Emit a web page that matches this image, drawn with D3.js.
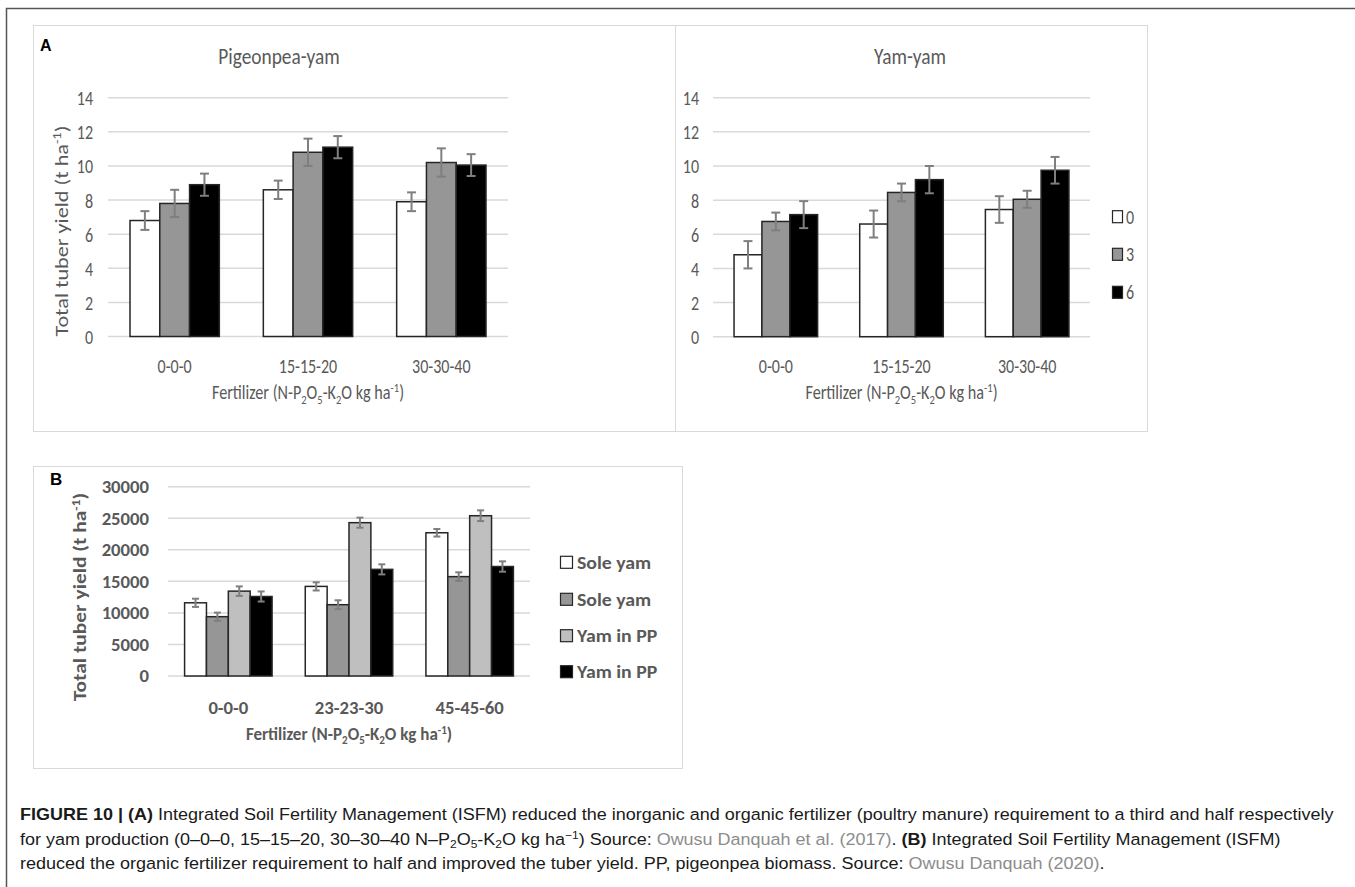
<!DOCTYPE html>
<html><head><meta charset="utf-8">
<script src="https://cdn.jsdelivr.net/npm/d3@7"></script>
<style>
html,body{margin:0;padding:0;background:#fff;}
svg{display:block;}
</style></head>
<body>
<svg id="fig" width="1355" height="887"></svg>
<script>
// ---------- DATA ----------
const catsA = ["0-0-0", "15-15-20", "30-30-40"];
const seriesA = ["0", "3", "6"];
// Pigeonpea-yam (t/ha), one array per manure level, ordered as catsA
const pyMean0 = [6.8, 8.6, 7.9];
const pyMean3 = [7.8, 10.8, 10.2];
const pyMean6 = [8.9, 11.1, 10.05];
const pyErr0 = [0.55, 0.54, 0.55];
const pyErr3 = [0.8, 0.8, 0.83];
const pyErr6 = [0.65, 0.65, 0.64];
// Yam-yam (t/ha)
const yyMean0 = [4.8, 6.6, 7.45];
const yyMean3 = [6.75, 8.45, 8.05];
const yyMean6 = [7.15, 9.2, 9.75];
const yyErr0 = [0.8, 0.79, 0.78];
const yyErr3 = [0.52, 0.52, 0.5];
const yyErr6 = [0.79, 0.8, 0.78];
const ticksA = [0, 2, 4, 6, 8, 10, 12, 14];

const catsB = ["0-0-0", "23-23-30", "45-45-60"];
const seriesB = ["Sole yam", "Sole yam", "Yam in PP", "Yam in PP"];
const bMean1 = [11600, 14200, 22700];
const bMean2 = [9400, 11300, 15750];
const bMean3 = [13450, 24300, 25400];
const bMean4 = [12600, 16900, 17350];
const bErr1 = [650, 650, 600];
const bErr2 = [650, 700, 680];
const bErr3 = [750, 800, 850];
const bErr4 = [800, 800, 820];
const ticksB = [0, 5000, 10000, 15000, 20000, 25000, 30000];

// ---------- STYLE ----------
const FONT = "Carlito, Lato, 'Open Sans', sans-serif";
const TXT = "#595959";
const GRID = "#d9d9d9";
const fillsA = ["#ffffff", "#969696", "#000000"];
const fillsB = ["#ffffff", "#969696", "#bfbfbf", "#000000"];

const svg = d3.select("#fig");
svg.append("rect").attr("width", 1355).attr("height", 887).attr("fill", "#fff");

// outer figure frame (top and left)
svg.append("path").attr("d", "M6.5,887 V8.5 H1355").attr("fill", "none")
  .attr("stroke", "#555").attr("stroke-width", 1.5);

// panel boxes
svg.append("rect").attr("x", 33.5).attr("y", 25.5).attr("width", 642).attr("height", 406)
  .attr("fill", "none").attr("stroke", GRID).attr("stroke-width", 1);
svg.append("rect").attr("x", 675.5).attr("y", 25.5).attr("width", 472).attr("height", 406)
  .attr("fill", "none").attr("stroke", GRID).attr("stroke-width", 1);
svg.append("rect").attr("x", 33.5).attr("y", 466.5).attr("width", 649).attr("height", 302)
  .attr("fill", "none").attr("stroke", GRID).attr("stroke-width", 1);

function fertTitle(g, x, y, size, weight, sx) {
  const t = g.append("text")
    .attr("transform", `translate(${x},${y}) scale(${sx},1)`).attr("text-anchor", "middle")
    .attr("font-family", FONT).attr("font-size", size).attr("font-weight", weight).attr("fill", TXT);
  const sub = s => t.append("tspan").attr("font-size", size * 0.65).attr("dy", size * 0.25).text(s);
  t.append("tspan").text("Fertilizer (N-P");
  sub("2"); t.append("tspan").attr("dy", -size * 0.25).text("O");
  sub("5"); t.append("tspan").attr("dy", -size * 0.25).text("-K");
  sub("2"); t.append("tspan").attr("dy", -size * 0.25).text("O kg ha");
  t.append("tspan").attr("font-size", size * 0.65).attr("dy", -size * 0.38).text("-1");
  t.append("tspan").attr("dy", size * 0.38).text(")");
  return t;
}

function yTitle(g, x, y, size, weight, stretch) {
  const t = g.append("text").attr("transform", `translate(${x},${y}) rotate(-90) scale(${stretch},1)`)
    .attr("text-anchor", "middle").attr("font-family", FONT).attr("font-size", size)
    .attr("font-weight", weight).attr("fill", TXT);
  t.append("tspan").text("Total tuber yield (t ha");
  t.append("tspan").attr("font-size", size * 0.65).attr("dy", -size * 0.38).text("-1");
  t.append("tspan").attr("dy", size * 0.38).text(")");
  return t;
}

function drawChart(cfg) {
  const g = svg.append("g");
  const x0 = d3.scaleBand().domain(cfg.cats).range(cfg.xr)
    .paddingInner(cfg.pad).paddingOuter(cfg.pad / 2);
  const x1 = d3.scaleBand().domain(d3.range(cfg.series.length)).range([0, x0.bandwidth()]);
  const y = d3.scaleLinear().domain(cfg.ydom).range(cfg.yr);
  const sx = cfg.sx || 1;

  // gridlines
  g.selectAll(".grid").data(cfg.ticks).join("line")
    .attr("x1", cfg.xr[0]).attr("x2", cfg.xr[1])
    .attr("y1", d => y(d)).attr("y2", d => y(d))
    .attr("stroke", GRID).attr("stroke-width", 1.5);

  // y axis labels
  const yAxis = d3.axisLeft(y).tickValues(cfg.ticks).tickSize(0).tickPadding(0).tickFormat(d3.format("d"));
  const ya = g.append("g").attr("transform", `translate(${cfg.ylabX},0)`).call(yAxis);
  ya.select(".domain").remove();
  ya.selectAll("text").attr("font-family", FONT).attr("font-size", cfg.tickSize)
    .attr("font-weight", cfg.weight).attr("fill", TXT).attr("dy", "0.35em")
    .attr("transform", `scale(${sx},1)`);

  // x axis labels
  const xAxis = d3.axisBottom(x0).tickSize(0).tickPadding(0);
  const xa = g.append("g").attr("transform", `translate(0,${cfg.xlabY})`).call(xAxis);
  xa.select(".domain").remove();
  xa.selectAll("text").attr("font-family", FONT).attr("font-size", cfg.tickSize)
    .attr("font-weight", cfg.weight).attr("fill", TXT).attr("dy", 0)
    .attr("transform", `scale(${sx},1)`);

  // bars
  const rows = [];
  cfg.cats.forEach((c, i) => cfg.means.forEach((m, s) => rows.push({ c, s, v: m[i], e: cfg.errs[s][i] })));
  g.selectAll(".bar").data(rows).join("rect")
    .attr("x", d => x0(d.c) + x1(d.s))
    .attr("y", d => y(d.v))
    .attr("width", x1.bandwidth())
    .attr("height", d => y(0) - y(d.v))
    .attr("fill", d => cfg.fills[d.s])
    .attr("stroke", "#262626").attr("stroke-width", 1.5);

  // error bars
  const eb = g.selectAll(".eb").data(rows).join("g")
    .attr("transform", d => `translate(${x0(d.c) + x1(d.s) + x1.bandwidth() / 2},0)`);
  eb.append("line").attr("y1", d => y(d.v + d.e)).attr("y2", d => y(d.v - d.e))
    .attr("stroke", "#7f7f7f").attr("stroke-width", 2);
  [1, -1].forEach(k => eb.append("line").attr("x1", -cfg.cap).attr("x2", cfg.cap)
    .attr("y1", d => y(d.v + k * d.e)).attr("y2", d => y(d.v + k * d.e))
    .attr("stroke", "#7f7f7f").attr("stroke-width", 2));

  if (cfg.title) {
    g.append("text").attr("transform", `translate(${cfg.titleX},${cfg.titleY}) scale(0.88,1)`)
      .attr("text-anchor", "middle").attr("font-family", FONT).attr("font-size", 22)
      .attr("fill", TXT).text(cfg.title);
  }
  fertTitle(g, (cfg.xr[0] + cfg.xr[1]) / 2, cfg.xtitleY, cfg.titleSize, cfg.weight, cfg.xtSx || 1);
  if (cfg.ytitleX) yTitle(g, cfg.ytitleX, cfg.ytitleY, cfg.ytSize, cfg.weight, cfg.ytStretch);

  if (cfg.legend) {
    const L = cfg.legend;
    const lg = g.selectAll(".lg").data(cfg.series).join("g")
      .attr("transform", (d, i) => `translate(${L.x},${L.ys[i]})`);
    lg.append("rect").attr("x", 0.5).attr("y", -L.sqh / 2).attr("width", L.sqw).attr("height", L.sqh)
      .attr("fill", (d, i) => cfg.fills[i]).attr("stroke", "#262626").attr("stroke-width", 1.2);
    lg.append("text").attr("transform", `translate(${L.tx},0) scale(${sx},1)`).attr("dy", "0.35em")
      .attr("font-family", FONT).attr("font-size", L.size).attr("font-weight", cfg.weight)
      .attr("fill", TXT).text(d => d);
  }
  return g;
}

// Panel A left
drawChart({
  cats: catsA, series: seriesA, means: [pyMean0, pyMean3, pyMean6], errs: [pyErr0, pyErr3, pyErr6],
  fills: fillsA, xr: [108, 508], pad: 0.33, ydom: [0, 14], yr: [336.5, 97.7], ticks: ticksA,
  ylabX: 93, xlabY: 373, tickSize: 20, weight: "normal", cap: 4.5, sx: 0.8,
  title: "Pigeonpea-yam", titleX: 279, titleY: 64, xtitleY: 399, titleSize: 19.5, xtSx: 0.83,
  ytitleX: 68, ytitleY: 231, ytSize: 18.5, ytStretch: 1.2
});
// Panel A right
drawChart({
  cats: catsA, series: seriesA, means: [yyMean0, yyMean3, yyMean6], errs: [yyErr0, yyErr3, yyErr6],
  fills: fillsA, xr: [713, 1090], pad: 0.335, ydom: [0, 14], yr: [336.7, 97.7], ticks: ticksA,
  ylabX: 699, xlabY: 373, tickSize: 20, weight: "normal", cap: 4.5, sx: 0.8,
  title: "Yam-yam", titleX: 910, titleY: 64, xtitleY: 399, titleSize: 19.5, xtSx: 0.83,
  legend: { x: 1112, ys: [216.7, 254.3, 292.3], sqw: 10, sqh: 12, tx: 14, size: 20 }
});
// Panel B
drawChart({
  cats: catsB, series: seriesB, means: [bMean1, bMean2, bMean3, bMean4], errs: [bErr1, bErr2, bErr3, bErr4],
  fills: fillsB, xr: [168, 530], pad: 0.275, ydom: [0, 30000], yr: [676, 486.7], ticks: ticksB,
  ylabX: 149, xlabY: 714, tickSize: 17, weight: "bold", cap: 3.5, sx: 1.1,
  xtitleY: 740, titleSize: 17, ytitleX: 86, ytitleY: 597, ytSize: 17, ytStretch: 1.26,
  legend: { x: 560, ys: [562.3, 599.3, 635.7, 671.7], sqw: 12, sqh: 12, tx: 17, size: 18 }
});

// panel letters
svg.append("text").attr("x", 40).attr("y", 51).attr("font-family", "'Liberation Sans', Arial, sans-serif")
  .attr("font-size", 16).attr("font-weight", "bold").attr("fill", "#000").text("A");
svg.append("text").attr("x", 50).attr("y", 485).attr("font-family", "'Liberation Sans', Arial, sans-serif")
  .attr("font-size", 17).attr("font-weight", "bold").attr("fill", "#000").text("B");

// ---------- CAPTION ----------
const CAP = "'Liberation Sans Narrow', 'Liberation Sans', Arial, sans-serif";
const LINK = "#8c8c8c";
const capLines = [
  { y: 820, parts: [
    { t: "FIGURE 10 | (A)", b: true },
    { t: " Integrated Soil Fertility Management (ISFM) reduced the inorganic and organic fertilizer (poultry manure) requirement to a third and half respectively" }
  ]},
  { y: 845, parts: [
    { t: "for yam production (0–0–0, 15–15–20, 30–30–40 N–P" }, { t: "2", sub: true }, { t: "O" }, { t: "5", sub: true },
    { t: "-K" }, { t: "2", sub: true }, { t: "O kg ha" }, { t: "−1", sup: true }, { t: ") Source: " },
    { t: "Owusu Danquah et al. (2017)", c: LINK }, { t: ". " }, { t: "(B)", b: true },
    { t: " Integrated Soil Fertility Management (ISFM)" }
  ]},
  { y: 869, parts: [
    { t: "reduced the organic fertilizer requirement to half and improved the tuber yield. PP, pigeonpea biomass. Source: " },
    { t: "Owusu Danquah (2020)", c: LINK }, { t: "." }
  ]}
];
const capG = svg.append("g");
const capTexts = capLines.map(line => {
  const t = capG.append("text").attr("x", 0).attr("y", line.y).attr("font-family", CAP)
    .attr("font-size", 16.5).attr("fill", "#1a1a1a");
  let shift = 0;
  line.parts.forEach(p => {
    const ts = t.append("tspan").text(p.t);
    if (p.b) ts.attr("font-weight", "bold");
    if (p.c) ts.attr("fill", p.c);
    let target = 0;
    if (p.sub) { ts.attr("font-size", 11); target = 3; }
    else if (p.sup) { ts.attr("font-size", 11); target = -6; }
    if (target !== shift) { ts.attr("dy", target - shift); shift = target; }
  });
  return t;
});
const capScale = 1315 / capTexts[0].node().getComputedTextLength();
capG.attr("transform", `translate(20,0) scale(${capScale},1)`);
</script>
</body></html>
